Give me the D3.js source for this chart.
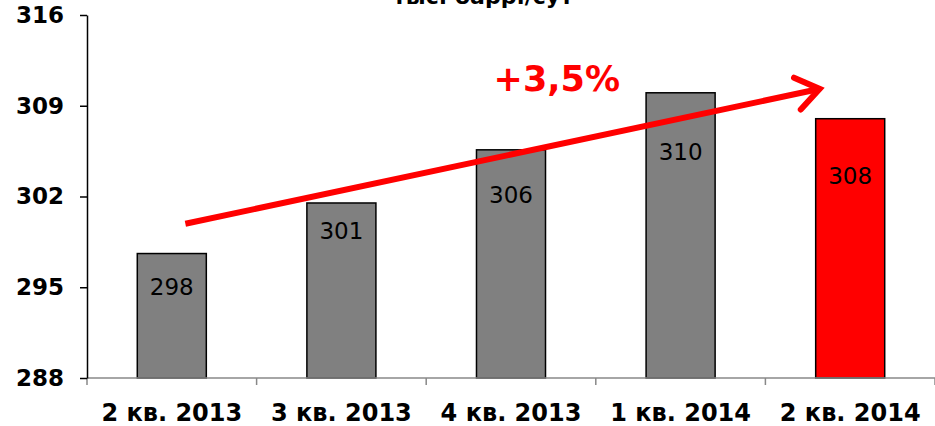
<!DOCTYPE html>
<html>
<head>
<meta charset="utf-8">
<script src="https://cdn.jsdelivr.net/npm/d3@7"></script>
<style>
  body { margin: 0; background: #fff; }
  svg { display: block; font-family: "DejaVu Sans", Verdana, sans-serif; }
</style>
</head>
<body>
<script>
// chart data
var quarters = ["2 кв. 2013", "3 кв. 2013", "4 кв. 2013", "1 кв. 2014", "2 кв. 2014"];
var values = [297.6, 301.5, 305.6, 310.0, 308.0];
var valueLabels = ["298", "301", "306", "310", "308"];
var yTicks = [288, 295, 302, 309, 316];
var barColors = ["#808080", "#808080", "#808080", "#808080", "#ff0000"];
// where each value label sits (in axis units, as placed in the source)
var labelAt = [294.4, 298.7, 301.5, 304.8, 303.0];

// trend annotation (category index, value)
var trendFrom = [0.08, 299.9];
var trendTo = [3.82, 310.3];
var trendLabel = "+3,5%";
var unitTitle = "тыс. барр./сут";

var svgWidth = 935;
var svgHeight = 426;
var margin = { top: 15, right: 0, bottom: 48, left: 87 };
var width = svgWidth - margin.left - margin.right;
var height = svgHeight - margin.top - margin.bottom;

var svg = d3.select("body")
  .append("svg")
  .attr("width", svgWidth)
  .attr("height", svgHeight);

var chart = svg.append("g")
  .attr("transform", "translate(" + margin.left + "," + margin.top + ")");

var x = d3.scaleBand()
  .domain(quarters)
  .range([0, width])
  .paddingInner(0.593)
  .paddingOuter(0.2965);

var y = d3.scaleLinear()
  .domain([288, 316])
  .range([height, 0]);

// index scale for annotation placement
var xi = d3.scaleLinear()
  .domain([0, 1])
  .range([x(quarters[0]) + x.bandwidth() / 2, x(quarters[1]) + x.bandwidth() / 2]);

// title (clipped at top as in source)
svg.append("text")
  .attr("x", 483)
  .attr("y", 4)
  .attr("text-anchor", "middle")
  .style("font-size", "22px")
  .style("font-weight", "bold")
  .text(unitTitle);

// bars
chart.selectAll("rect.bar")
  .data(values)
  .enter().append("rect")
  .attr("class", "bar")
  .attr("x", function (d, i) { return x(quarters[i]); })
  .attr("y", function (d) { return y(d); })
  .attr("width", x.bandwidth())
  .attr("height", function (d) { return height - y(d); })
  .attr("fill", function (d, i) { return barColors[i]; })
  .attr("stroke", "#000")
  .attr("stroke-width", 1.5);

chart.selectAll("text.val")
  .data(values)
  .enter().append("text")
  .attr("class", "val")
  .attr("x", function (d, i) { return x(quarters[i]) + x.bandwidth() / 2; })
  .attr("y", function (d, i) { return y(labelAt[i]); })
  .attr("text-anchor", "middle")
  .style("font-size", "23px")
  .attr("fill", "#000")
  .text(function (d, i) { return valueLabels[i]; });

// x axis
var xAxis = chart.append("g")
  .attr("transform", "translate(0," + height + ")");
xAxis.append("line")
  .attr("x1", 0).attr("x2", width)
  .attr("stroke", "#888").attr("stroke-width", 1.5);
xAxis.selectAll("line.tk")
  .data(d3.range(quarters.length + 1))
  .enter().append("line")
  .attr("class", "tk")
  .attr("x1", function (d) { return d * x.step(); })
  .attr("x2", function (d) { return d * x.step(); })
  .attr("y1", 0).attr("y2", 7)
  .attr("stroke", "#888").attr("stroke-width", 1.5);
xAxis.selectAll("text")
  .data(quarters)
  .enter().append("text")
  .attr("x", function (d) { return x(d) + x.bandwidth() / 2; })
  .attr("y", 43)
  .attr("text-anchor", "middle")
  .style("font-size", "24px")
  .style("font-weight", "bold")
  .text(function (d) { return d; });

// y axis
var leftAxis = d3.axisLeft(y)
  .tickValues(yTicks)
  .tickSize(7)
  .tickPadding(16)
  .tickSizeOuter(0);
var yG = chart.append("g").call(leftAxis);
yG.select(".domain").attr("stroke", "#000").attr("stroke-width", 1.5);
yG.selectAll(".tick line").attr("stroke", "#000").attr("stroke-width", 1.5);
yG.selectAll(".tick text")
  .style("font-family", "'DejaVu Sans', Verdana, sans-serif")
  .style("font-size", "23px")
  .style("font-weight", "bold")
  .attr("fill", "#000");

// trend arrow
var x1 = xi(trendFrom[0]), y1 = y(trendFrom[1]);
var x2 = xi(trendTo[0]), y2 = y(trendTo[1]);
chart.append("line")
  .attr("x1", x1).attr("y1", y1)
  .attr("x2", x2 - 3).attr("y2", y2 + 0.6)
  .attr("stroke", "#ff0000")
  .attr("stroke-width", 6);
var ang = Math.atan2(y2 - y1, x2 - x1);
var arm = 28, spread = 0.62;
chart.append("path")
  .attr("d", "M" + (x2 - arm * Math.cos(ang - spread)) + "," + (y2 - arm * Math.sin(ang - spread)) +
    "L" + x2 + "," + y2 +
    "L" + (x2 - arm * Math.cos(ang + spread)) + "," + (y2 - arm * Math.sin(ang + spread)))
  .attr("fill", "none")
  .attr("stroke", "#ff0000")
  .attr("stroke-width", 6)
  .attr("stroke-linecap", "round")
  .attr("stroke-linejoin", "miter");

chart.append("text")
  .attr("x", xi(2.27))
  .attr("y", y(310.1))
  .attr("text-anchor", "middle")
  .attr("fill", "#ff0000")
  .style("font-size", "35px")
  .style("font-weight", "bold")
  .text(trendLabel);
</script>
</body>
</html>
